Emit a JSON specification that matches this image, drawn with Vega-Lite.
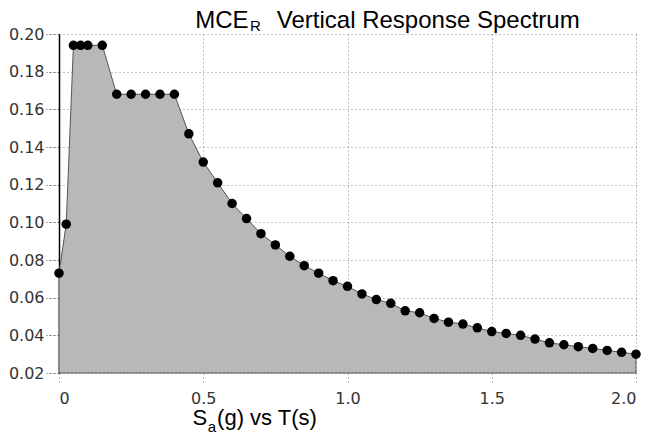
{
  "$schema": "https://vega.github.io/schema/vega-lite/v6.json",
  "width": 577,
  "height": 339,
  "autosize": "none",
  "padding": {"left": 59, "top": 34, "right": 14, "bottom": 66},
  "background": "white",
  "config": {"view": {"stroke": null}, "font": "Liberation Sans"},
  "datasets": {
    "spectrum": [
      {"T": 0, "Sa": 0.073},
      {"T": 0.025, "Sa": 0.099},
      {"T": 0.05, "Sa": 0.194},
      {"T": 0.075, "Sa": 0.194},
      {"T": 0.1, "Sa": 0.194},
      {"T": 0.15, "Sa": 0.194},
      {"T": 0.2, "Sa": 0.168},
      {"T": 0.25, "Sa": 0.168},
      {"T": 0.3, "Sa": 0.168},
      {"T": 0.35, "Sa": 0.168},
      {"T": 0.4, "Sa": 0.168},
      {"T": 0.45, "Sa": 0.147},
      {"T": 0.5, "Sa": 0.132},
      {"T": 0.55, "Sa": 0.121},
      {"T": 0.6, "Sa": 0.110},
      {"T": 0.65, "Sa": 0.102},
      {"T": 0.7, "Sa": 0.094},
      {"T": 0.75, "Sa": 0.088},
      {"T": 0.8, "Sa": 0.082},
      {"T": 0.85, "Sa": 0.077},
      {"T": 0.9, "Sa": 0.073},
      {"T": 0.95, "Sa": 0.069},
      {"T": 1.0, "Sa": 0.066},
      {"T": 1.05, "Sa": 0.062},
      {"T": 1.1, "Sa": 0.059},
      {"T": 1.15, "Sa": 0.057},
      {"T": 1.2, "Sa": 0.053},
      {"T": 1.25, "Sa": 0.052},
      {"T": 1.3, "Sa": 0.049},
      {"T": 1.35, "Sa": 0.047},
      {"T": 1.4, "Sa": 0.046},
      {"T": 1.45, "Sa": 0.044},
      {"T": 1.5, "Sa": 0.042},
      {"T": 1.55, "Sa": 0.041},
      {"T": 1.6, "Sa": 0.040},
      {"T": 1.65, "Sa": 0.038},
      {"T": 1.7, "Sa": 0.036},
      {"T": 1.75, "Sa": 0.035},
      {"T": 1.8, "Sa": 0.034},
      {"T": 1.85, "Sa": 0.033},
      {"T": 1.9, "Sa": 0.032},
      {"T": 1.95, "Sa": 0.031},
      {"T": 2.0, "Sa": 0.030}
    ],
    "titleParts": [
      {"text": "MCE", "tx": 0.472, "ty": 0.2032, "size": 24},
      {"text": "R", "tx": 0.662, "ty": 0.2016, "size": 15},
      {"text": "Vertical Response Spectrum", "tx": 0.755, "ty": 0.2032, "size": 24}
    ],
    "axisTitleParts": [
      {"text": "S", "tx": 0.463, "ty": -0.0078, "size": 22},
      {"text": "a", "tx": 0.516, "ty": -0.0113, "size": 15},
      {"text": "(g) vs T(s)", "tx": 0.548, "ty": -0.0078, "size": 22}
    ]
  },
  "layer": [
    {
      "data": {"name": "spectrum"},
      "mark": {"type": "area", "color": "#b8b8b8", "stroke": "#555555", "strokeWidth": 1, "interpolate": "linear"},
      "encoding": {
        "x": {
          "field": "T", "type": "quantitative",
          "scale": {"domain": [0, 2], "nice": false, "zero": false},
          "axis": {
            "values": [0, 0.5, 1, 1.5, 2],
            "tickCount": 10,
            "labelExpr": "datum.value == 0 ? '0' : format(datum.value, '.1f')",
            "title": null,
            "domain": false,
            "ticks": true,
            "tickSize": 12,
            "tickColor": "#777777",
            "tickDash": [1, 3],
            "labelPadding": 5,
            "labelOverlap": false,
            "labelFont": "DejaVu Sans",
            "labelFontSize": 16,
            "labelColor": "#333333",
            "grid": true,
            "gridColor": "#888888",
            "gridDash": [1, 3],
            "gridWidth": 1
          }
        },
        "y": {
          "field": "Sa", "type": "quantitative",
          "scale": {"domain": [0.02, 0.2], "nice": false, "zero": false},
          "axis": {
            "values": [0.02, 0.04, 0.06, 0.08, 0.1, 0.12, 0.14, 0.16, 0.18, 0.2],
            "tickCount": 12,
            "format": ".2f",
            "title": null,
            "domain": true,
            "domainColor": "#000000",
            "domainWidth": 1.5,
            "tickSize": 13,
            "tickColor": "#666666",
            "tickDash": [2, 2],
            "labelPadding": 2,
            "labelOverlap": false,
            "labelFont": "DejaVu Sans",
            "labelFontSize": 16,
            "labelColor": "#333333",
            "grid": true,
            "gridColor": "#888888",
            "gridDash": [1, 3],
            "gridWidth": 1
          }
        },
        "y2": {"datum": 0.02}
      }
    },
    {
      "data": {"name": "spectrum"},
      "mark": {"type": "point", "filled": true, "color": "#000000", "size": 90, "opacity": 1},
      "encoding": {
        "x": {"field": "T", "type": "quantitative"},
        "y": {"field": "Sa", "type": "quantitative"}
      }
    },
    {
      "data": {"name": "titleParts"},
      "mark": {"type": "text", "align": "left", "baseline": "alphabetic", "color": "#000000", "font": "Liberation Sans"},
      "encoding": {
        "x": {"field": "tx", "type": "quantitative"},
        "y": {"field": "ty", "type": "quantitative"},
        "text": {"field": "text"},
        "size": {"field": "size", "type": "quantitative", "scale": null}
      }
    },
    {
      "data": {"name": "axisTitleParts"},
      "mark": {"type": "text", "align": "left", "baseline": "alphabetic", "color": "#000000", "font": "Liberation Sans"},
      "encoding": {
        "x": {"field": "tx", "type": "quantitative"},
        "y": {"field": "ty", "type": "quantitative"},
        "text": {"field": "text"},
        "size": {"field": "size", "type": "quantitative", "scale": null}
      }
    }
  ]
}
